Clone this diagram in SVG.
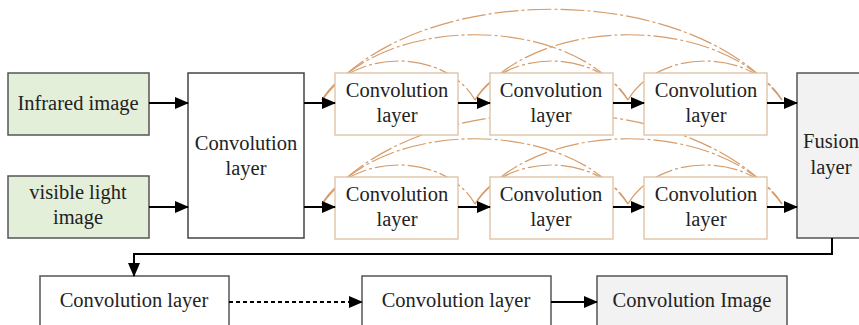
<svg xmlns="http://www.w3.org/2000/svg" width="859" height="325" viewBox="0 0 859 325">
<defs>
<marker id="ah" markerWidth="14" markerHeight="12" refX="13" refY="6" orient="auto" markerUnits="userSpaceOnUse">
<path d="M0,0 L14,6 L0,12 Z" fill="#000"/>
</marker>
<style>
.t{font-family:"Liberation Serif","Times New Roman",serif;font-size:20.5px;fill:#222;text-anchor:middle}
.in{fill:#e3efd9;stroke:#555;stroke-width:1.5}
.big{fill:#fff;stroke:#444;stroke-width:1.5}
.cv{fill:#fff;stroke:#dcbfa2;stroke-width:1.3}
.gr{fill:#f2f2f2;stroke:#555;stroke-width:1.5}
.wb{fill:#fff;stroke:#555;stroke-width:1.5}
.ar{fill:none;stroke:#000;stroke-width:2}
.arc{fill:none;stroke:#d69c6a;stroke-width:1.2;stroke-dasharray:24 3 3 3}
</style>
</defs>

<g id="arcs-top">
<path class="arc" d="M322,100 C352,48 445,48 475,100"/>
<path class="arc" d="M322,100 C382,13 568,13 628,100"/>
<path class="arc" d="M322,100 C413,-21 691,-21 782,100"/>
<path class="arc" d="M475,100 C505,48 598,48 628,100"/>
<path class="arc" d="M475,100 C535,13 722,13 782,100"/>
<path class="arc" d="M628,100 C658,48 752,48 782,100"/>
</g>
<g id="arcs-bottom">
<path class="arc" d="M322,204 C352,152 445,152 475,204"/>
<path class="arc" d="M322,204 C382,117 568,117 628,204"/>
<path class="arc" d="M322,204 C413,83 691,83 782,204"/>
<path class="arc" d="M475,204 C505,152 598,152 628,204"/>
<path class="arc" d="M475,204 C535,117 722,117 782,204"/>
<path class="arc" d="M628,204 C658,152 752,152 782,204"/>
</g>

<g id="infrared"><rect class="in" x="8" y="73" width="141" height="62"/><text class="t" x="78" y="110">Infrared image</text></g>
<g id="visible"><rect class="in" x="8" y="176" width="141" height="62"/><text class="t" x="78" y="199">visible light</text><text class="t" x="78" y="224">image</text></g>
<g id="conv0"><rect class="big" x="188" y="73" width="116" height="165"/><text class="t" x="246" y="150">Convolution</text><text class="t" x="246" y="175">layer</text></g>

<g id="conv-t1"><rect class="cv" x="335" y="73" width="123" height="62"/><text class="t" x="397" y="97">Convolution</text><text class="t" x="397" y="122">layer</text></g>
<g id="conv-t2"><rect class="cv" x="490" y="73" width="123" height="62"/><text class="t" x="551" y="97">Convolution</text><text class="t" x="551" y="122">layer</text></g>
<g id="conv-t3"><rect class="cv" x="644" y="73" width="123" height="62"/><text class="t" x="706" y="97">Convolution</text><text class="t" x="706" y="122">layer</text></g>

<g id="conv-b1"><rect class="cv" x="335" y="177" width="123" height="62"/><text class="t" x="397" y="201">Convolution</text><text class="t" x="397" y="226">layer</text></g>
<g id="conv-b2"><rect class="cv" x="490" y="177" width="123" height="62"/><text class="t" x="551" y="201">Convolution</text><text class="t" x="551" y="226">layer</text></g>
<g id="conv-b3"><rect class="cv" x="644" y="177" width="123" height="62"/><text class="t" x="706" y="201">Convolution</text><text class="t" x="706" y="226">layer</text></g>

<g id="fusion"><rect class="gr" x="797" y="73" width="70" height="165"/><text class="t" x="831" y="148">Fusion</text><text class="t" x="831" y="174">layer</text></g>

<g id="conv-c1"><rect class="wb" x="40" y="276" width="189" height="60"/><text class="t" x="134" y="307">Convolution layer</text></g>
<g id="conv-c2"><rect class="wb" x="362" y="276" width="189" height="60"/><text class="t" x="456" y="307">Convolution layer</text></g>
<g id="conv-img"><rect class="gr" x="597" y="276" width="190" height="60"/><text class="t" x="692" y="307">Convolution Image</text></g>

<g id="connectors">
<line class="ar" x1="149" y1="103" x2="188" y2="103" marker-end="url(#ah)"/>
<line class="ar" x1="149" y1="207" x2="188" y2="207" marker-end="url(#ah)"/>
<line class="ar" x1="304" y1="103" x2="335" y2="103" marker-end="url(#ah)"/>
<line class="ar" x1="304" y1="207" x2="335" y2="207" marker-end="url(#ah)"/>
<line class="ar" x1="458" y1="103" x2="490" y2="103" marker-end="url(#ah)"/>
<line class="ar" x1="613" y1="103" x2="644" y2="103" marker-end="url(#ah)"/>
<line class="ar" x1="767" y1="103" x2="797" y2="103" marker-end="url(#ah)"/>
<line class="ar" x1="458" y1="207" x2="490" y2="207" marker-end="url(#ah)"/>
<line class="ar" x1="613" y1="207" x2="644" y2="207" marker-end="url(#ah)"/>
<line class="ar" x1="767" y1="207" x2="797" y2="207" marker-end="url(#ah)"/>
<path class="ar" d="M832,238 V254 H134 V276" marker-end="url(#ah)"/>
<line class="ar" x1="229" y1="302" x2="362" y2="302" stroke-dasharray="4 3" marker-end="url(#ah)"/>
<line class="ar" x1="551" y1="302" x2="597" y2="302" marker-end="url(#ah)"/>
</g>
</svg>
